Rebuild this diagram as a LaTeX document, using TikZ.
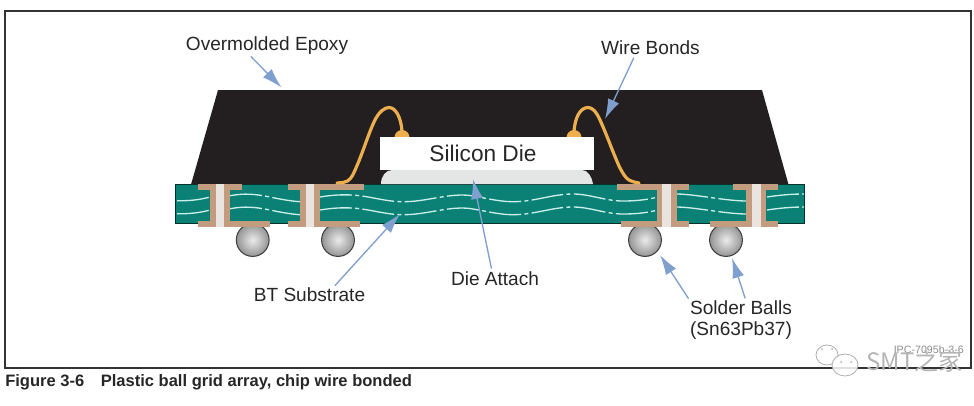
\documentclass[tikz,border=0pt]{standalone}
\usepackage{fontspec}
\setmainfont{Liberation Sans}
\newfontfamily\cjkfont{Noto Sans CJK SC}
\usetikzlibrary{arrows.meta,shadings}
\definecolor{epoxy}{HTML}{231F20}
\definecolor{laminate}{HTML}{0B8074}
\definecolor{copper}{HTML}{C39C80}
\definecolor{viahole}{HTML}{EAE4E0}
\definecolor{wirecol}{HTML}{EDAE4E}
\definecolor{attach}{HTML}{E4E6E6}
\definecolor{leader}{HTML}{7F9FCF}
\definecolor{weave}{HTML}{C8EFEA}
\definecolor{markcol}{HTML}{8C8C8C}
\tikzset{
  callout/.style={font=\fontsize{14.3pt}{15.8pt}\selectfont, text=black!85, inner sep=0pt, align=center},
  pointer/.style={draw=leader, line width=1pt, -{Latex[length=15pt,width=9pt,fill=leader]}, shorten <=2pt},
  bondwire/.style={draw=wirecol, line width=2.4pt, line cap=round},
  fibre/.style={draw=weave, line width=1pt, dash pattern=on 24pt off 2.5pt on 3pt off 2.5pt},
  solderball/.style={circle, draw=black!75, line width=0.8pt, minimum size=24.6pt, inner sep=0pt,
    inner color=white!92!black, outer color=black!42},
  cu/.style={fill=copper, draw=none},
  hole/.style={fill=viahole, draw=none}
}
% one plated through-hole: \platedvia{hole left}{hole right}{top left}{top right}{bottom left}{bottom right}
\newcommand{\platedvia}[6]{
  \fill[cu] (#3,184) rectangle (#1,189.5);
  \fill[cu] (#2,184) rectangle (#4,189.5);
  \fill[cu] (#5,220.5) rectangle (#1,226.7);
  \fill[cu] (#2,220.5) rectangle (#6,226.7);
  \fill[cu] (#1-5.5,184) rectangle (#1,226.7);
  \fill[cu] (#2,184) rectangle (#2+5.5,226.7);
  \fill[hole] (#1,184) rectangle (#2,226.7);
}
\begin{document}
\begin{tikzpicture}[x=0.75pt,y=-0.75pt]
\useasboundingbox (0,0) rectangle (974,405);

% outer frame
\draw[line width=0.9pt, draw=black!80] (5,11) rectangle (971,368);

% solder balls sit under the laminate
\node[solderball] (ball1) at (252.7,240) {};
\node[solderball] (ball2) at (338,240) {};
\node[solderball] (ball3) at (645,240) {};
\node[solderball] (ball4) at (726,240) {};

% moulded body
\fill[epoxy] (218,90) -- (762,90) -- (788.5,184.5) -- (191,184.5) -- cycle;

% laminate
\fill[laminate, draw=black!60!laminate, line width=0.6pt] (175,184) rectangle (804,223);

% glass weave in the laminate, upper and lower layer
\foreach \dy in {0,13}{
  \begin{scope}[yshift=-\dy*0.75pt]
    \draw[fibre] (177,200.7) .. controls (188,201) and (199,200) .. (210,197);
    \draw[fibre] (230,195.7) .. controls (245,193) and (255,194) .. (270,197) .. controls (282,199.5) and (290,201) .. (300,201.7);
    \draw[fibre] (320,197) .. controls (332,195) and (342,194.5) .. (352,195)
       .. controls (370,196) and (385,201.7) .. (403,201.7)
       .. controls (425,201.7) and (442,195) .. (463,195)
       .. controls (475,195) and (495,201.7) .. (513,201.7)
       .. controls (535,201.7) and (552,194) .. (573,194)
       .. controls (590,194) and (605,201) .. (623,201)
       .. controls (635,201) and (645,200) .. (655,197.7);
    \draw[fibre] (676,194) .. controls (695,194) and (725,201) .. (747,201);
    \draw[fibre] (767,197) .. controls (780,195) and (792,194) .. (804,194);
  \end{scope}
}

% plated vias with their pads
\platedvia{215.7}{224.3}{197.7}{242.3}{197.7}{270}
\platedvia{305.7}{314.3}{287.7}{364.3}{287.7}{359.5}
\platedvia{662.3}{671}{616.7}{689}{621.3}{689}
\platedvia{751.7}{760.7}{733.3}{778.3}{710}{778.3}

% die attach fillet
\fill[attach] (381,184) .. controls (381,176) and (386,170) .. (392,170) -- (582,170)
  .. controls (588,170) and (592,177) .. (593,184) -- cycle;

% bond pads on the die
\fill[wirecol] (394.5,137.5) arc[start angle=180,end angle=360,radius=7.5] -- cycle;
\fill[wirecol] (566.5,137.5) arc[start angle=180,end angle=360,radius=7.5] -- cycle;

% silicon die
\node[fill=white, minimum width=160.5pt, minimum height=25pt, inner sep=0pt,
  font=\fontsize{17pt}{20pt}\selectfont, text=black!85] (die) at (487,153.7) {\hspace*{-6pt}Silicon Die};

% bond wires
\coordinate (wireLpad) at (337,183);
\coordinate (wireRpad) at (639,183);
\draw[bondwire] (wireLpad) -- (343,182.5) .. controls (350,181.5) and (352,177) .. (356,168)
  .. controls (363,152) and (368,135) .. (374,122)
  .. controls (379,111) and (385,107.5) .. (389,107.5)
  .. controls (396,107.5) and (401,118) .. (402,131);
\draw[bondwire] (wireRpad) -- (634,182) .. controls (627,181) and (623,174) .. (619,166)
  .. controls (612,150) and (606,133) .. (600,120)
  .. controls (596,111) and (592,107.5) .. (588,107.5)
  .. controls (580,107.5) and (575,118) .. (574,131);

% callouts
\node[callout] (epoxyLbl) at (267,45.5) {Overmolded Epoxy};
\node[callout] (wireLbl) at (650.5,48) {Wire Bonds};
\node[callout] (btLbl) at (309.5,295) {BT Substrate};
\node[callout] (attachLbl) at (495,278.5) {Die Attach};
\node[callout] (ballsLbl) at (741,320.5) {Solder Balls\\(Sn63Pb37)};

\coordinate (epoxyTip) at (281.5,87.5);
\coordinate (wireTip) at (605,119);
\coordinate (btTip) at (400,214);
\coordinate (attachTip) at (473,179);
\coordinate (ball3Tip) at (660,255);
\coordinate (ball4Tip) at (732,258);

\draw[pointer] (epoxyLbl.south -| 249,0) -- (epoxyTip);
\draw[pointer] (wireLbl.south -| 635,0) -- (wireTip);
\draw[pointer] (btLbl.north -| 333,0) -- (btTip);
\draw[pointer] (attachLbl.north -| 492,0) -- (attachTip);
\draw[pointer] (ballsLbl.north -| 690,0) -- (ball3Tip);
\draw[pointer] (ballsLbl.north -| 746,0) -- (ball4Tip);

% figure reference and caption
\node[anchor=east, inner sep=0pt, font=\fontsize{8pt}{9pt}\selectfont, text=markcol] (refno) at (964,350) {IPC-7095b-3-6};
\node[anchor=west, inner sep=0pt, font=\bfseries\fontsize{12.4pt}{14pt}\selectfont, text=black!85] (caption) at (5,382)
  {Figure 3-6\hspace{1em}Plastic ball grid array, chip wire bonded};

% account mark over the lower right corner
\begin{scope}[draw=markcol!70, line width=0.6pt, fill=white, fill opacity=0.85]
  \draw[fill] (827,355) ellipse[x radius=11, y radius=10];
  \draw[fill] (845,365) ellipse[x radius=13, y radius=11];
\end{scope}
\foreach \ex/\ey in {822/349,832/349,841/362,851/362}
  \fill[markcol!70] (\ex,\ey) circle[radius=1];
\node[anchor=west, inner sep=0pt, font=\cjkfont\fontsize{18pt}{20pt}\selectfont, text=white!35!markcol] (markname) at (866,361) {SMT之家};
\end{tikzpicture}
\end{document}
